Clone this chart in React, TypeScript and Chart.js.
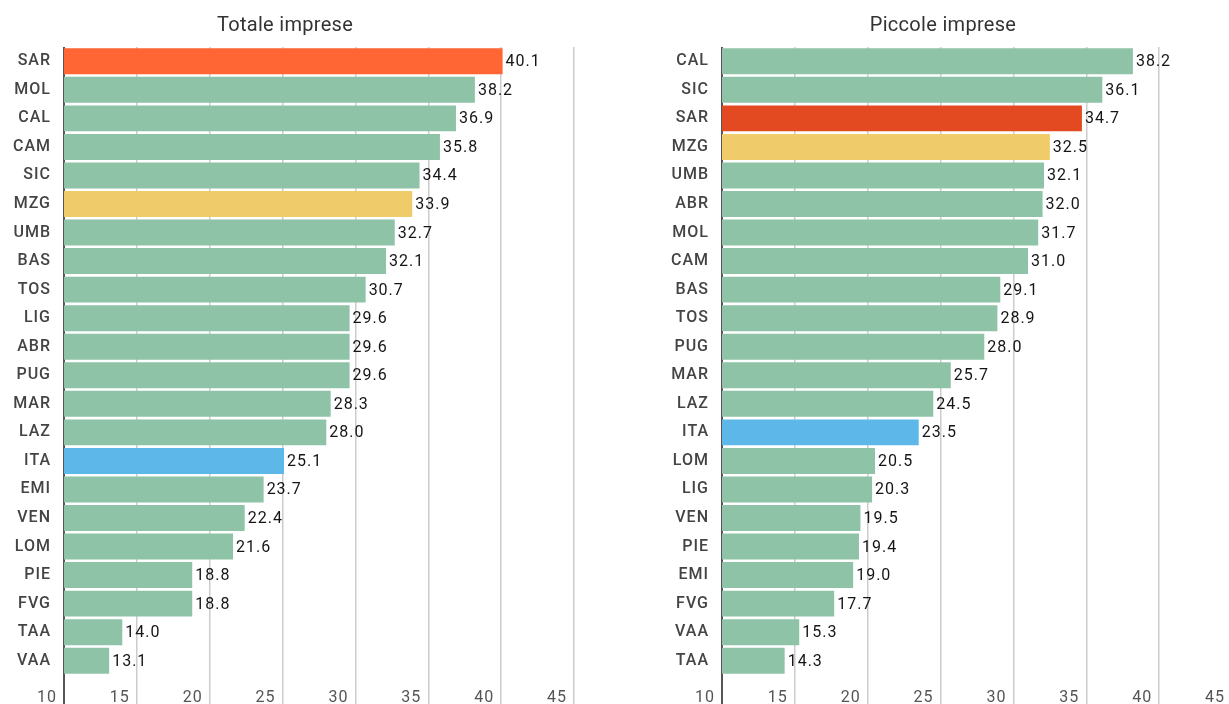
import React, { useEffect, useRef } from "react";
import { Chart, registerables } from "chart.js";

Chart.register(...registerables);

const totaleTitle = "Totale imprese";
const totaleLabels = ["SAR", "MOL", "CAL", "CAM", "SIC", "MZG", "UMB", "BAS", "TOS", "LIG", "ABR", "PUG", "MAR", "LAZ", "ITA", "EMI", "VEN", "LOM", "PIE", "FVG", "TAA", "VAA"];
const totaleValues = [40.1, 38.2, 36.9, 35.8, 34.4, 33.9, 32.7, 32.1, 30.7, 29.6, 29.6, 29.6, 28.3, 28.0, 25.1, 23.7, 22.4, 21.6, 18.8, 18.8, 14.0, 13.1];

const piccoleTitle = "Piccole imprese";
const piccoleLabels = ["CAL", "SIC", "SAR", "MZG", "UMB", "ABR", "MOL", "CAM", "BAS", "TOS", "PUG", "MAR", "LAZ", "ITA", "LOM", "LIG", "VEN", "PIE", "EMI", "FVG", "VAA", "TAA"];
const piccoleValues = [38.2, 36.1, 34.7, 32.5, 32.1, 32.0, 31.7, 31.0, 29.1, 28.9, 28.0, 25.7, 24.5, 23.5, 20.5, 20.3, 19.5, 19.4, 19.0, 17.7, 15.3, 14.3];

const axisMin = 10;
const axisMax = 45;
const axisStep = 5;

const GREEN = "#8fc3a7";
const YELLOW = "#f0cb6a";
const BLUE = "#5db7e8";

function colorsFor(labels: string[], sarColor: string) {
  return labels.map((l) =>
    l === "SAR" ? sarColor : l === "MZG" ? YELLOW : l === "ITA" ? BLUE : GREEN
  );
}

const spacingPlugin = {
  id: "letterSpacing",
  beforeDraw(chart: any) {
    (chart.ctx as any).letterSpacing = "1px";
  },
};

const valueLabelPlugin = {
  id: "valueLabels",
  afterDatasetsDraw(chart: any) {
    const ctx = chart.ctx;
    const meta = chart.getDatasetMeta(0);
    const data = chart.data.datasets[0].data as number[];
    ctx.save();
    ctx.letterSpacing = "1px";
    ctx.font = "16px Roboto";
    ctx.fillStyle = "#151515";
    ctx.textAlign = "left";
    ctx.textBaseline = "middle";
    meta.data.forEach((el: any, i: number) => {
      ctx.fillText(data[i].toFixed(1), el.x + 3, el.y + 1);
    });
    ctx.restore();
  },
};

const titlePlugin = {
  id: "panelTitle",
  afterDraw(chart: any) {
    const ctx = chart.ctx;
    const text = chart.options.plugins.panelTitle.text;
    ctx.save();
    ctx.letterSpacing = "0.3px";
    ctx.font = "20px Roboto";
    ctx.fillStyle = "#333";
    ctx.textAlign = "center";
    ctx.textBaseline = "middle";
    ctx.fillText(text, 285, 26);
    ctx.restore();
  },
};

function BarPanel({ title, labels, values, sarColor, left }: { title: string; labels: string[]; values: number[]; sarColor: string; left: number }) {
  const ref = useRef<HTMLCanvasElement | null>(null);
  useEffect(() => {
    if (!ref.current) return;
    const chart = new Chart(ref.current, {
      type: "bar",
      data: {
        labels,
        datasets: [
          {
            data: values,
            backgroundColor: colorsFor(labels, sarColor),
            borderWidth: 0,
            barPercentage: 0.91,
            categoryPercentage: 1,
          },
        ],
      },
      options: {
        indexAxis: "y",
        animation: false,
        responsive: false,
        layout: { padding: { left: 0, right: 6, top: 47, bottom: 0 } },
        plugins: {
          legend: { display: false },
          tooltip: { enabled: false },
          title: { display: false },
          panelTitle: { text: title },
        },
        scales: {
          x: {
            type: "linear",
            min: axisMin,
            max: axisMax,
            ticks: {
              stepSize: axisStep,
              align: "end",
              labelOffset: -7,
              padding: -16,
              color: "#555",
              font: { family: "Roboto", size: 16 },
            },
            grid: {
              drawTicks: true,
              tickLength: 29,
              color: (c: any) => (c.tick && c.tick.value === axisMin ? "#555" : "#cccccc"),
              lineWidth: (c: any) => (c.tick && c.tick.value === axisMin ? 2 : 1.5),
            },
            border: { display: false },
            afterFit: (s: any) => {
              s.height = 29;
            },
          },
          y: {
            type: "category",
            grid: { display: false, drawTicks: false },
            border: { display: false },
            ticks: {
              padding: 13,
              color: "#444",
              font: { family: "Roboto", size: 16, weight: 500 },
            },
            afterFit: (s: any) => {
              s.width = 64;
            },
          },
        },
      },
      plugins: [spacingPlugin, valueLabelPlugin, titlePlugin],
    } as any);
    return () => chart.destroy();
  }, []);
  return (
    <div style={{ position: "absolute", left, top: 0, width: 580, height: 704 }}>
      <canvas ref={ref} width={580} height={704} style={{ width: 580, height: 704, display: "block" }} />
    </div>
  );
}

export default function App() {
  return (
    <div style={{ position: "fixed", left: 0, top: 0, width: 1229, height: 704, overflow: "hidden", background: "#fff" }}>
      <BarPanel title={totaleTitle} labels={totaleLabels} values={totaleValues} sarColor="#ff6633" left={0} />
      <BarPanel title={piccoleTitle} labels={piccoleLabels} values={piccoleValues} sarColor="#e34a22" left={658} />
    </div>
  );
}
